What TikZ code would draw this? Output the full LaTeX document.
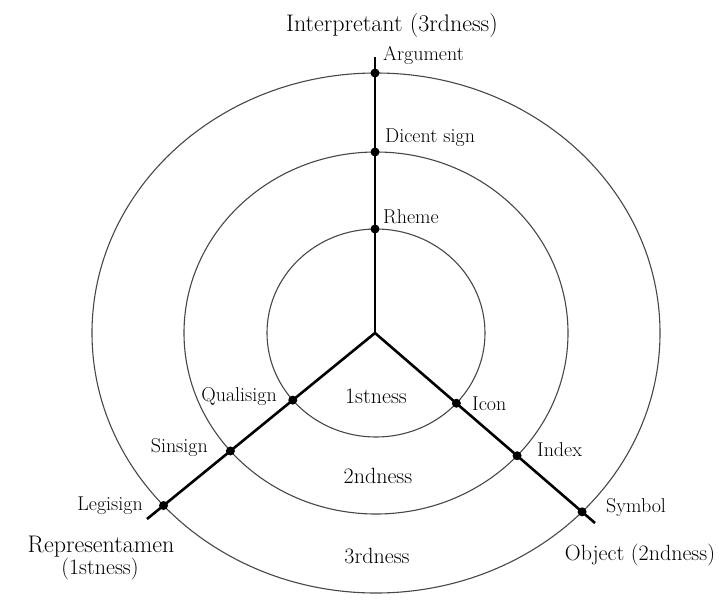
\documentclass[tikz,border=0pt]{standalone}
\usepackage{fontspec}
\usetikzlibrary{intersections}
\begin{document}
\begin{tikzpicture}[x=1pt,y=-1pt,
  ring/.style={draw=black!72, line width=1.1pt},
  spoke/.style={line width=2.6pt, draw=black},
  dot/.style={circle, fill=black, inner sep=0pt, minimum size=9pt},
  lab/.style={font=\fontsize{20}{22}\selectfont, inner sep=0pt},
  big/.style={font=\fontsize{24}{26}\selectfont, inner sep=0pt},
  ringlab/.style={font=\fontsize{22}{24}\selectfont, inner sep=0pt}]
\useasboundingbox (0,0) rectangle (728,600);

% rings
\draw[ring, name path=outer] (376,333) ellipse [x radius=284, y radius=260];
\draw[ring, name path=middle] (376,333) ellipse [x radius=192, y radius=181];
\draw[ring, name path=inner] (376,333) ellipse [x radius=109, y radius=104];

% spokes
\coordinate (hub) at (375,333);
\coordinate (topEnd) at (375,57);
\coordinate (leftEnd) at (147,519);
\coordinate (rightEnd) at (595,523);
\draw[spoke, name path=spT] (hub) -- (topEnd);
\draw[spoke, name path=spL] (hub) -- (leftEnd);
\draw[spoke, name path=spR] (hub) -- (rightEnd);

% intersections
\path[name intersections={of=outer and spT, by=pArg}];
\path[name intersections={of=middle and spT, by=pDic}];
\path[name intersections={of=inner and spT, by=pRhe}];
\path[name intersections={of=outer and spL, by=pLeg}];
\path[name intersections={of=middle and spL, by=pSin}];
\path[name intersections={of=inner and spL, by=pQua}];
\path[name intersections={of=outer and spR, by=pSym}];
\path[name intersections={of=middle and spR, by=pInd}];
\path[name intersections={of=inner and spR, by=pIco}];

\foreach \p in {pArg,pDic,pRhe,pLeg,pSin,pQua,pSym,pInd,pIco}
  \node[dot] (d\p) at (\p) {};

% labels on the spokes
\node[lab, anchor=base west] (argument) at (383,60) {Argument};
\node[lab, anchor=base west] (dicent) at (385,142) {Dicent sign};
\node[lab, anchor=base west] (rheme) at (383,223) {Rheme};
\node[lab, anchor=base east] (quali) at (277,401) {Qualisign};
\node[lab, anchor=base east] (sinsign) at (208,452) {Sinsign};
\node[lab, anchor=base east] (legisign) at (143,510) {Legisign};
\node[lab, anchor=base west] (icon) at (472,410) {Icon};
\node[lab, anchor=base west] (index) at (537,456) {Index};
\node[lab, anchor=base west] (symbol) at (606,512) {Symbol};

% category titles
\node[big, anchor=base] (interp) at (392,31) {Interpretant (3rdness)};
\node[big, anchor=base] (repr) at (101,552) {Representamen};
\node[ringlab, anchor=base] (repr2) at (100,574) {(1stness)};
\node[ringlab, anchor=base] (obj) at (640,560) {Object (2ndness)};

% ring labels
\node[ringlab, anchor=base] (r1) at (376,403) {1stness};
\node[ringlab, anchor=base] (r2) at (378,483) {2ndness};
\node[ringlab, anchor=base] (r3) at (377,563) {3rdness};
\end{tikzpicture}
\end{document}
